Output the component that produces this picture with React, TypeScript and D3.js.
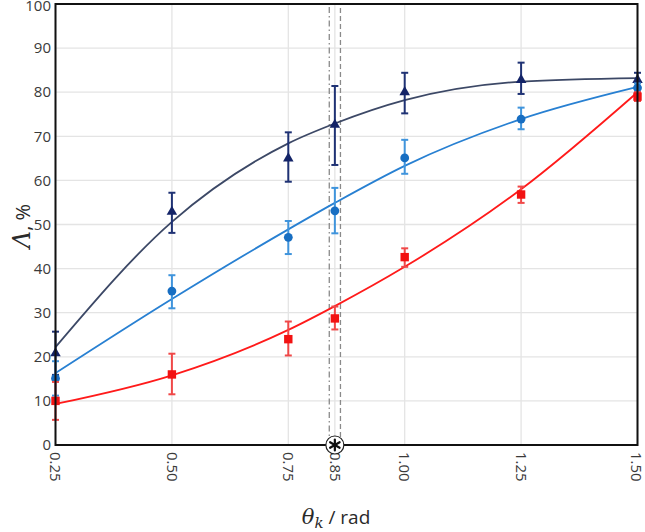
import React from "react";
import * as d3 from "d3";

// ---- data ----
const thetaPoints = [0.25, 0.5, 0.75, 0.85, 1.0, 1.25, 1.5];
const triValues = [20.8, 52.9, 65.0, 72.6, 80.0, 82.8, 82.8];
const triLow = [15.9, 48.1, 59.7, 63.5, 75.2, 79.6, 81.2];
const triHigh = [25.7, 57.2, 70.9, 81.4, 84.4, 86.7, 84.4];
const circValues = [15.1, 34.9, 47.1, 53.1, 65.1, 73.9, 81.0];
const circLow = [11.2, 31.0, 43.3, 48.0, 61.5, 71.6, 80.0];
const circHigh = [19.0, 38.5, 50.8, 58.3, 69.2, 76.5, 82.0];
const sqValues = [10.0, 16.0, 24.0, 28.7, 42.6, 56.8, 79.0];
const sqLow = [5.7, 11.5, 20.3, 26.2, 40.4, 54.9, 78.0];
const sqHigh = [14.3, 20.7, 28.0, 31.4, 44.6, 58.6, 80.0];

const fitX = [0.25, 0.5, 0.75, 0.85, 1.0, 1.25, 1.5];
const triFit = [22.2, 50.6, 68.4, 72.9, 78.2, 82.4, 83.2];
const circFit = [16.3, 33.1, 48.9, 54.9, 63.3, 73.9, 81.2];
const sqFit = [9.3, 15.8, 26.1, 31.5, 40.4, 58.0, 80.0];

const xTicks = [0.25, 0.5, 0.75, 0.85, 1.0, 1.25, 1.5];
const xTickLabels = ["0.25", "0.50", "0.75", "0.85", "1.00", "1.25", "1.50"];
const yTicks = [0, 10, 20, 30, 40, 50, 60, 70, 80, 90, 100];
const criticalBand = [0.838, 0.862];
const criticalTheta = 0.85;

const W = 645;
const H = 532;

export default function App() {
  const x = d3.scaleLinear().domain([0.25, 1.5]).range([55.5, 637.5]);
  const y = d3.scaleLinear().domain([0, 100]).range([445, 4]);
  const line = d3
    .line<[number, number]>()
    .x((d) => x(d[0]))
    .y((d) => y(d[1]))
    .curve(d3.curveMonotoneX);

  const series = [
    { vals: triValues, lo: triLow, hi: triHigh, fit: triFit, line: "#3c4866", mark: "#142468", err: "#1f3274", shape: "tri" },
    { vals: circValues, lo: circLow, hi: circHigh, fit: circFit, line: "#2880d2", mark: "#176ec2", err: "#3f94dc", shape: "circ" },
    { vals: sqValues, lo: sqLow, hi: sqHigh, fit: sqFit, line: "#ff1a1a", mark: "#f21212", err: "#f04848", shape: "sq" },
  ];

  const tri = d3.symbol(d3.symbolTriangle, 48)();
  const font = "'Open Sans', 'Liberation Sans', sans-serif";
  const serif = "'DejaVu Serif', 'Liberation Serif', serif";
  const cx = x(criticalTheta);
  const cy = y(0);
  const starArms = [90, 30, 150];

  return (
    <svg width={W} height={H} style={{ position: "absolute", left: 0, top: 0, background: "#fff" }}>
      {/* grid */}
      {yTicks.map((t) => (
        <line key={"gy" + t} x1={x(0.25)} x2={x(1.5)} y1={y(t)} y2={y(t)} stroke="#e4e4e4" strokeWidth={1.3} />
      ))}
      {xTicks.map((t) => (
        <line key={"gx" + t} x1={x(t)} x2={x(t)} y1={y(0)} y2={y(100)} stroke="#e4e4e4" strokeWidth={1.3} />
      ))}
      {/* critical band */}
      <line x1={x(criticalBand[0])} x2={x(criticalBand[0])} y1={y(0)} y2={y(100)} stroke="#8a8a8a" strokeWidth={1.3} strokeDasharray="6,3,1.5,3" />
      <line x1={x(criticalBand[1])} x2={x(criticalBand[1])} y1={y(0)} y2={y(100)} stroke="#8a8a8a" strokeWidth={1.3} strokeDasharray="5,3" />

      {/* fits */}
      {series.map((s, i) => (
        <path key={"fit" + i} d={line(fitX.map((v, j) => [v, s.fit[j]]) as [number, number][]) || ""} fill="none" stroke={s.line} strokeWidth={1.8} />
      ))}

      {/* error bars and markers */}
      {series.map((s, i) => (
        <g key={"s" + i}>
          {thetaPoints.map((t, j) => (
            <g key={j}>
              <line x1={x(t)} x2={x(t)} y1={y(s.lo[j])} y2={y(s.hi[j])} stroke={s.err} strokeWidth={2} />
              <line x1={x(t) - 3.5} x2={x(t) + 3.5} y1={y(s.lo[j])} y2={y(s.lo[j])} stroke={s.err} strokeWidth={2} />
              <line x1={x(t) - 3.5} x2={x(t) + 3.5} y1={y(s.hi[j])} y2={y(s.hi[j])} stroke={s.err} strokeWidth={2} />
            </g>
          ))}
          {thetaPoints.map((t, j) =>
            s.shape === "tri" ? (
              <path key={"m" + j} d={tri || ""} transform={`translate(${x(t)},${y(s.vals[j])})`} fill={s.mark} />
            ) : s.shape === "circ" ? (
              <circle key={"m" + j} cx={x(t)} cy={y(s.vals[j])} r={4.4} fill={s.mark} />
            ) : (
              <rect key={"m" + j} x={x(t) - 4.2} y={y(s.vals[j]) - 4.2} width={8.4} height={8.4} fill={s.mark} />
            )
          )}
        </g>
      ))}

      {/* frame */}
      <rect x={x(0.25)} y={y(100)} width={x(1.5) - x(0.25)} height={y(0) - y(100)} fill="none" stroke="#111" strokeWidth={2} />

      {/* y tick labels */}
      {yTicks.map((t) => (
        <text key={"yl" + t} x={51} y={y(t) + (t === 100 ? 1.5 : 0)} dy="0.35em" textAnchor="end" fontFamily={font} fontSize={15} fill="#3a3a3a">
          {t}
        </text>
      ))}
      {/* x tick labels */}
      {xTicks.map((t, i) => (
        <text key={"xl" + t} transform={`translate(${x(t) - (t === 1.5 ? 1 : 0)},${452}) rotate(90)`} dy="0.35em" textAnchor="start" fontFamily={font} fontSize={15} fill="#3a3a3a">
          {xTickLabels[i]}
        </text>
      ))}

      {/* critical marker */}
      <circle cx={cx} cy={cy} r={9} fill="#fff" stroke="#222" strokeWidth={1.2} />
      {starArms.map((a) => {
        const r = (a * Math.PI) / 180;
        const L = 5.5;
        return <line key={a} x1={cx - L * Math.cos(r)} y1={cy - L * Math.sin(r)} x2={cx + L * Math.cos(r)} y2={cy + L * Math.sin(r)} stroke="#111" strokeWidth={2.2} strokeLinecap="round" />;
      })}

      {/* axis titles */}
      <text transform={`translate(30,226) rotate(-90)`} textAnchor="middle" fill="#2a2a2a">
        <tspan fontFamily={serif} fontStyle="italic" fontSize={24}>Λ</tspan>
        <tspan fontFamily={font} fontSize={20}>, %</tspan>
      </text>
      <text x={336} y={524} textAnchor="middle" fill="#2a2a2a">
        <tspan fontFamily={serif} fontStyle="italic" fontSize={21}>θ</tspan>
        <tspan fontFamily={serif} fontStyle="italic" fontSize={15} dy={4}>k</tspan>
        <tspan fontFamily={font} fontSize={19} dy={-4}> / rad</tspan>
      </text>
    </svg>
  );
}
